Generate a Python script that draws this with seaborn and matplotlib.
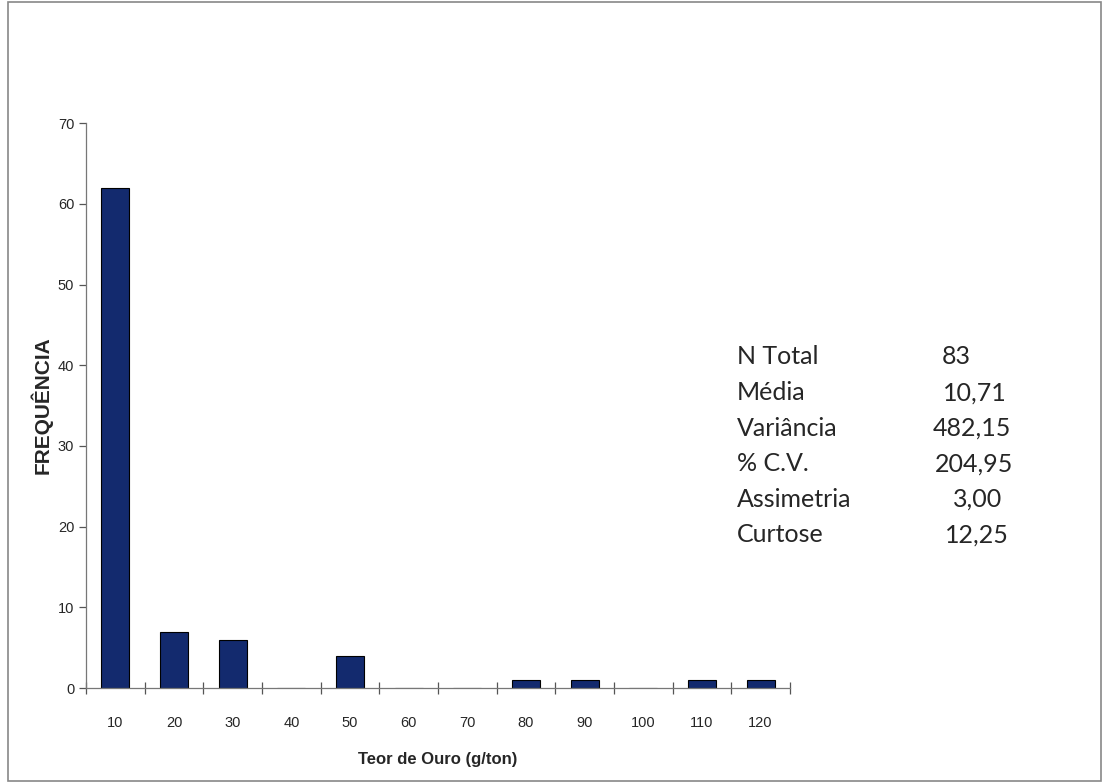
import matplotlib
matplotlib.use("Agg")
import matplotlib.pyplot as plt
from matplotlib.patches import Rectangle
import pandas as pd
import seaborn as sns

# dados
classes = ["10", "20", "30", "40", "50", "60", "70", "80", "90", "100", "110", "120"]
frequencias = [62, 7, 6, 0, 4, 0, 0, 1, 1, 0, 1, 1]

estat_nomes = ["N Total", "Média", "Variância", "% C.V.", "Assimetria", "Curtose"]
estat_valores = ["83", "10,71", "482,15", "204,95", "3,00", "12,25"]

df = pd.DataFrame({"classe": classes, "freq": frequencias})

sns.set_style("white")
plt.rcParams["font.family"] = ["Liberation Sans Narrow", "Liberation Sans", "DejaVu Sans"]

W, H = 1107, 784
fig = plt.figure(figsize=(W / 100, H / 100), dpi=100)
ax = fig.add_axes([0.0777, 0.1224, 0.6359, 0.7206])

sns.barplot(data=df, x="classe", y="freq", color="#132a6e", edgecolor="black",
            linewidth=0.8, width=0.48, saturation=1, ax=ax)

ax.set_xlim(-0.5, len(classes) - 0.5)
ax.set_ylim(0, 70)
ax.set_yticks(range(0, 71, 10))

# ticks do eixo x nas divisões entre classes
ax.set_xticks([i - 0.5 for i in range(len(classes) + 1)], minor=True)
ax.tick_params(axis="x", which="major", bottom=True, length=0, pad=20, labelsize=10.5)
ax.tick_params(axis="x", which="minor", bottom=True, length=9, width=0.9,
               direction="inout", color="#555555")
ax.tick_params(axis="y", which="major", left=True, length=5, width=0.9,
               direction="out", color="#555555", labelsize=10.5)

for lado in ["top", "right"]:
    ax.spines[lado].set_visible(False)
for lado in ["left", "bottom"]:
    ax.spines[lado].set_color("#777777")
    ax.spines[lado].set_linewidth(0.9)

ax.set_xlabel("Teor de Ouro (g/ton)", fontsize=12, fontweight="bold", labelpad=16)
ax.set_ylabel("FREQUÊNCIA", fontsize=15, fontweight="bold", labelpad=4)

# quadro de estatísticas (colunas como no original)
fonte = ["Lato", "DejaVu Sans"]
x_nome = 737
x_valor = [942, 943, 933, 935, 953, 945]
y0 = 357
dy = 35.6
for i, (nome, val) in enumerate(zip(estat_nomes, estat_valores)):
    y = 1 - (y0 + i * dy) / H
    fig.text(x_nome / W, y, nome, fontsize=18, family=fonte, va="center", ha="left")
    fig.text(x_valor[i] / W, y, val, fontsize=18, family=fonte, va="center", ha="left")

# moldura externa
fig.patches.append(Rectangle((0.007, 0.004), 0.988, 0.993, transform=fig.transFigure,
                             fill=False, edgecolor="#888888", linewidth=1.2))

fig.savefig("out.png", dpi=100)
